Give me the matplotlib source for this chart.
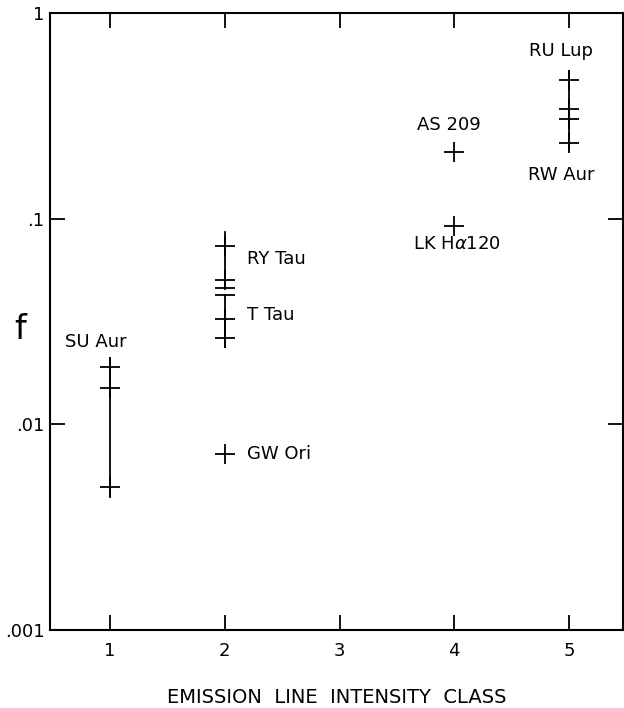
import numpy as np
import matplotlib
matplotlib.use("Agg")
import matplotlib.pyplot as plt

# emission line intensity class for each star
stars = ["SU Aur", "RY Tau", "T Tau", "GW Ori", "AS 209", r"LK H$\alpha$120", "RU Lup", "RW Aur"]
classes = [1, 2, 2, 2, 4, 4, 5, 5]
f_points = [
    [0.0189, 0.0151, 0.00498],
    [0.0739, 0.0505],
    [0.0327, 0.0264],
    [0.00721],
    [0.210],
    [0.0925],
    [0.474],
    [0.343, 0.306, 0.234],
]
# bare horizontal bars (no cross) at the ends of a range
f_bars = [[], [0.0462], [0.0427], [], [], [], [], []]

xticks = [1, 2, 3, 4, 5]
yticks = [0.001, 0.01, 0.1, 1]
ytick_labels = [".001", ".01", ".1", "1"]

plt.rcParams["font.family"] = ["DejaVu Sans"]
fig = plt.figure(figsize=(6.24, 7.08), dpi=100)
ax = fig.add_axes([0.0801, 0.1102, 0.9183, 0.8714])
ax.set_yscale("log")
ax.set_xlim(0.477, 5.47)
ax.set_ylim(0.001, 1)

# vertical range lines for stars with several measurements
ranges = {0: (0.0211, 0.00445), 1: (0.086, 0.0462), 2: (0.0427, 0.0238), 6: (0.52, 0.215)}
for i, (hi, lo) in ranges.items():
    ax.plot([classes[i], classes[i]], [lo, hi], color="black", lw=1.3)

for i, vals in enumerate(f_points):
    ax.plot([classes[i]] * len(vals), vals, linestyle="none", marker="+",
            markersize=14, markeredgewidth=1.3, color="black")
for i, vals in enumerate(f_bars):
    if vals:
        ax.plot([classes[i]] * len(vals), vals, linestyle="none", marker="_",
                markersize=14, markeredgewidth=1.3, color="black")

lab = dict(fontsize=13, color="black")
ax.text(0.88, 0.0252, stars[0], ha="center", va="center", **lab)
ax.text(2.19, 0.0635, stars[1], ha="left", va="center", **lab)
ax.text(2.19, 0.0339, stars[2], ha="left", va="center", **lab)
ax.text(2.19, 0.00721, stars[3], ha="left", va="center", **lab)
ax.text(3.95, 0.285, stars[4], ha="center", va="center", **lab)
ax.text(4.02, 0.0755, stars[5], ha="center", va="center", **lab)
ax.text(4.93, 0.655, stars[6], ha="center", va="center", **lab)
ax.text(4.93, 0.163, stars[7], ha="center", va="center", **lab)

ax.set_xticks(xticks)
ax.set_xticklabels([str(v) for v in xticks], fontsize=13)
ax.set_yticks(yticks)
ax.set_yticklabels(ytick_labels, fontsize=13)
ax.yaxis.set_minor_locator(matplotlib.ticker.NullLocator())
ax.tick_params(axis="both", which="major", direction="in", length=11, width=1.3,
               top=True, right=True)
ax.tick_params(axis="x", pad=9)
ax.tick_params(axis="y", pad=4)
for s in ax.spines.values():
    s.set_linewidth(1.5)

ax.set_xlabel("EMISSION  LINE  INTENSITY  CLASS", fontsize=14, labelpad=20)
fig.text(0.032, 0.535, "f", fontsize=24, ha="center", va="center")

fig.savefig("out.png", dpi=100)
